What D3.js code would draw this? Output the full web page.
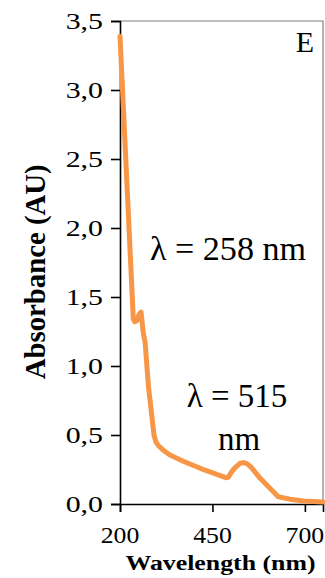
<!DOCTYPE html>
<html>
<head>
<meta charset="utf-8">
<script src="https://cdn.jsdelivr.net/npm/d3@7"></script>
<style>
  body { margin: 0; background: #fff; }
  svg { display: block; }
</style>
</head>
<body>
<div id="chart"></div>
<script>
// spectrum
const wavelength = [200, 236, 240, 246, 251, 257, 263, 268, 277, 292, 297, 305, 317, 335, 371, 430, 488, 493, 500, 508, 516, 525, 535, 545, 555, 579, 628, 660, 696, 749];
const absorbance = [3.39, 1.34, 1.32, 1.33, 1.37, 1.39, 1.24, 1.17, 0.85, 0.50, 0.45, 0.42, 0.39, 0.355, 0.31, 0.245, 0.19, 0.195, 0.225, 0.255, 0.275, 0.295, 0.30, 0.29, 0.265, 0.186, 0.053, 0.035, 0.022, 0.015];
const xTicks = [200, 450, 700];
const yTicks = [0, 0.5, 1, 1.5, 2, 2.5, 3, 3.5];
const xLabel = "Wavelength (nm)";
const yLabel = "Absorbance (AU)";
const panelLabel = "E";

const size = {width: 325, height: 578};
const margin = {top: 21, right: 2, bottom: 74, left: 120};
const width = size.width - margin.left - margin.right;
const height = size.height - margin.top - margin.bottom;
const serif = "'Liberation Serif', 'Times New Roman', Times, serif";

const svg = d3.select("#chart").append("svg")
    .attr("width", size.width)
    .attr("height", size.height)
    .attr("font-family", serif)
    .style("font-family", serif);

const g = svg.append("g")
    .attr("transform", "translate(" + margin.left + "," + margin.top + ")");

const xScale = d3.scaleLinear().domain([200, 749]).range([0, width]);
const yScale = d3.scaleLinear().domain([0, 3.5]).range([height, 0]);

// gray frame on top/right
g.append("path")
    .attr("d", "M0,0H" + width + "V" + height)
    .attr("fill", "none")
    .attr("stroke", "#808080")
    .attr("stroke-width", 1.2);

// axes
const yAxis = d3.axisLeft(yScale).tickValues(yTicks).tickSize(9).tickFormat(() => "");
const xAxis = d3.axisBottom(xScale).tickValues(xTicks).tickSize(8).tickFormat(() => "");

const yG = g.append("g").attr("class", "y-axis").call(yAxis);
const xG = g.append("g").attr("class", "x-axis").attr("transform", "translate(0," + height + ")").call(xAxis);
[yG, xG].forEach(a => {
    a.attr("font-family", null);
    a.select(".domain").attr("stroke", "#000").attr("stroke-width", 1.6);
    a.selectAll(".tick line").attr("stroke", "#000").attr("stroke-width", 1.6);
});

// tick labels (decimal comma)
const fmt = d3.format(".1f");
g.selectAll(".ylab").data(yTicks).join("text")
    .attr("class", "ylab")
    .attr("text-anchor", "end")
    .style("font-size", "23px")
    .attr("transform", d => "translate(-17," + (yScale(d) + 8) + ") scale(1.3,1)")
    .text(d => fmt(d).replace(".", ","));

g.selectAll(".xlab").data(xTicks).join("text")
    .attr("class", "xlab")
    .attr("text-anchor", "middle")
    .style("font-size", "23px")
    .attr("transform", d => "translate(" + xScale(d) + "," + (height + 39) + ") scale(1.12,1)")
    .text(d => d);

// axis titles
g.append("text")
    .attr("text-anchor", "middle")
    .style("font-size", "20px")
    .style("font-weight", "bold")
    .attr("x", width / 2 - 1)
    .attr("y", height + 66)
    .attr("textLength", 190)
    .attr("lengthAdjust", "spacingAndGlyphs")
    .text(xLabel);

g.append("text")
    .attr("text-anchor", "middle")
    .style("font-size", "29px")
    .style("font-weight", "bold")
    .attr("transform", "translate(-75," + (yScale(1.9) + 30) + ") rotate(-90)")
    .attr("textLength", 215)
    .attr("lengthAdjust", "spacingAndGlyphs")
    .text(yLabel);

// curve
const line = d3.line()
    .x((d, i) => xScale(wavelength[i]))
    .y(d => yScale(d));

g.append("path")
    .datum(absorbance)
    .attr("fill", "none")
    .attr("stroke", "#F79646")
    .attr("stroke-width", 5)
    .attr("stroke-linejoin", "round")
    .attr("stroke-linecap", "round")
    .attr("d", line);

// annotations
g.append("text")
    .style("font-size", "33px")
    .attr("x", 30).attr("y", yScale(1.77))
    .attr("textLength", 156)
    .attr("lengthAdjust", "spacingAndGlyphs")
    .text("\u03bb = 258 nm");

const ann2 = g.append("text")
    .attr("text-anchor", "middle")
    .style("font-size", "33px");
ann2.append("tspan").attr("x", 117).attr("y", yScale(0.705)).text("\u03bb = 515");
ann2.append("tspan").attr("x", 119).attr("y", yScale(0.39)).text("nm");

g.append("text")
    .attr("text-anchor", "end")
    .style("font-size", "30px")
    .attr("x", width - 9).attr("y", 31)
    .text(panelLabel);
</script>
</body>
</html>
